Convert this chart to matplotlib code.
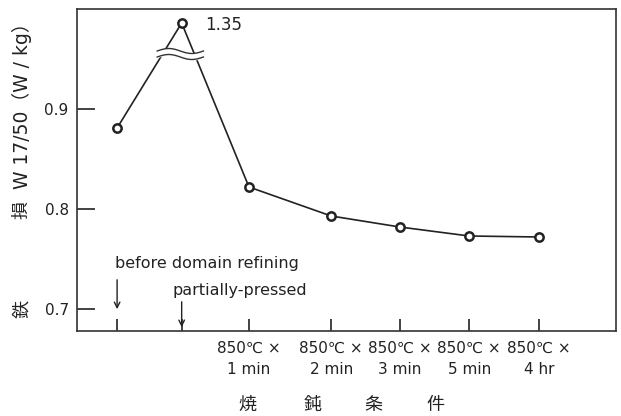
import numpy as np
import matplotlib.pyplot as plt

plt.rcParams['font.family'] = ['DejaVu Sans', 'Noto Sans CJK JP']

# annealing conditions along the x axis (positions follow the original spacing)
x_pos = [0.0, 0.95, 1.94, 3.15, 4.16, 5.18, 6.21]
x_labels = ['', '',
            '850℃ ×\n1 min', '850℃ ×\n2 min', '850℃ ×\n3 min',
            '850℃ ×\n5 min', '850℃ ×\n4 hr']
core_loss = [0.881, 1.35, 0.822, 0.793, 0.782, 0.773, 0.772]   # W17/50 (W/kg)

BREAK_LO = 0.955      # where the y axis is broken
BREAK_SHIFT = 1.319   # values above the break are shifted down by this much


def to_axis(v):
    """map a loss value onto the broken y scale"""
    return v if v < BREAK_LO else BREAK_LO + (v - BREAK_SHIFT)


fig = plt.figure(figsize=(6.21, 4.16), dpi=100)
ax = fig.add_axes([77/621, 1 - 331/416, (616-77)/621, (331-9)/416])

y_plot = [to_axis(v) for v in core_loss]
ax.plot(x_pos, y_plot, '-', color='#222222', lw=1.2, zorder=2)
ax.plot(x_pos, y_plot, 'o', ms=6, mfc='white', mec='#222222', mew=1.8, zorder=5)

# wavy break mark across the two segments near the peak
xb = np.linspace(0.59, 1.27, 60)
wave = 0.0025*np.sin((xb - xb[0]) / (xb[-1] - xb[0]) * 2*np.pi)
ax.fill_between(xb, BREAK_LO - 0.003 + wave, BREAK_LO + 0.003 + wave,
                color='white', zorder=3)
ax.plot(xb, BREAK_LO - 0.003 + wave, color='#333333', lw=1.0, zorder=4)
ax.plot(xb, BREAK_LO + 0.003 + wave, color='#333333', lw=1.0, zorder=4)

ax.text(x_pos[1] + 0.35, y_plot[1] - 0.002, f'{core_loss[1]:.2f}', fontsize=12,
        ha='left', va='center', color='#222222')

ax.set_xlim(-0.59, 7.34)
ax.set_ylim(0.678, 1.0)
ax.set_xticks(x_pos)
ax.set_xticklabels(x_labels, fontsize=11, linespacing=1.5)
ax.set_yticks([0.7, 0.8, 0.9])
ax.set_yticklabels(['0.7', '0.8', '0.9'], fontsize=11)
ax.tick_params(axis='x', direction='in', length=9, width=1.2, pad=7,
               colors='#222222')
ax.tick_params(axis='y', direction='in', length=13, width=1.2, pad=6,
               colors='#222222')
for s in ax.spines.values():
    s.set_linewidth(1.2)
    s.set_color('#333333')

# arrows marking the two untreated samples
ax.annotate('', xy=(x_pos[0], 0.697), xytext=(x_pos[0], 0.732),
            arrowprops=dict(arrowstyle='->', lw=1.0, color='#222222'))
ax.text(x_pos[0] - 0.03, 0.746, 'before domain refining', fontsize=11.5,
        ha='left', va='center', color='#222222')
ax.annotate('', xy=(x_pos[1], 0.679), xytext=(x_pos[1], 0.71),
            arrowprops=dict(arrowstyle='->', lw=1.0, color='#222222'))
ax.text(x_pos[1] - 0.13, 0.719, 'partially-pressed', fontsize=11.5,
        ha='left', va='center', color='#222222')

# y axis title: 鉄 損 W17/50 (W/kg)
fig.text(22/621, 1 - 309/416, '鉄', rotation=90, fontsize=13,
         ha='center', va='center', color='#222222')
fig.text(22/621, 1 - 210/416, '損', rotation=90, fontsize=13,
         ha='center', va='center', color='#222222')
fig.text(22/621, 1 - 101/416, 'W 17/50（W / kg）', rotation=90, fontsize=13.5,
         ha='center', va='center', color='#222222')

# x axis title: 焼 鈍 条 件
for ch, px in zip('焼鈍条件', [247, 313, 373, 435]):
    fig.text(px/621, 1 - 405/416, ch, fontsize=13, ha='center', va='center',
             color='#222222')

fig.savefig('out.png', dpi=100)
